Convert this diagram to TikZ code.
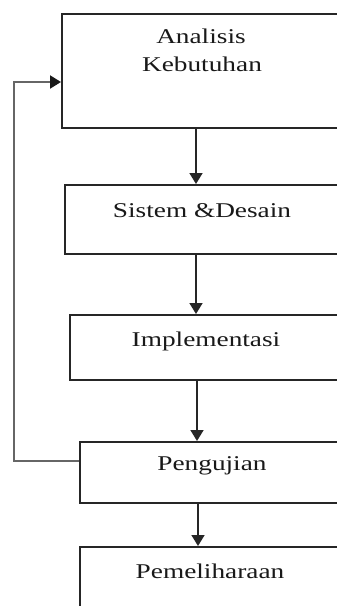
\documentclass[tikz,border=0pt]{standalone}
\usepackage{fontspec}
\setmainfont[FakeStretch=1.3]{Liberation Serif}
\usetikzlibrary{arrows.meta}
\begin{document}
\begin{tikzpicture}[x=1pt,y=-1pt,
  box/.style={draw=black!85,line width=1.6pt,rectangle,anchor=north west,minimum width=290pt,inner sep=0pt},
  lbl/.style={font=\fontsize{21}{28}\selectfont,anchor=base,text=black!90,inner sep=0pt},
  arr/.style={draw=black!85,line width=1.6pt,-{Triangle[length=11pt,width=13pt]}},
  fb/.style={draw=black!60,line width=2pt,-{Triangle[length=11pt,width=13pt,color=black!90]}}]
\useasboundingbox (0,0) rectangle (337,606);
\fill[white] (0,0) rectangle (337,606);
\clip (0,0) rectangle (337,606);
% boxes
\node[box,minimum height=114pt] (b1) at (61,13) {};
\node[box,minimum height=69pt] (b2) at (64,184) {};
\node[box,minimum height=65pt] (b3) at (69,314) {};
\node[box,minimum height=61pt] (b4) at (79,441) {};
\node[box,minimum height=90pt] (b5) at (79,546) {};
% labels
\node[lbl] (t1a) at (201,43) {Analisis};
\node[lbl] (t1b) at (202,71) {Kebutuhan};
\node[lbl] (t2) at (202,217) {Sistem \&Desain};
\node[lbl] (t3) at (206,346) {Implementasi};
\node[lbl] (t4) at (212,470) {Pengujian};
\node[lbl] (t5) at (210,578) {Pemeliharaan};
% arrows
\draw[arr] (b1.south -| 196,0) -- (b2.north -| 196,0);
\draw[arr] (b2.south -| 196,0) -- (b3.north -| 196,0);
\draw[arr] (b3.south -| 197,0) -- (b4.north -| 197,0);
\draw[arr] (b4.south -| 198,0) -- (b5.north -| 198,0);
% feedback
\coordinate (fbL) at (14,461);
\coordinate (fbT) at (14,82);
\draw[fb] (b4.west |- fbL) -- (fbL) -- (fbT) -- (b1.west |- fbT);
\end{tikzpicture}
\end{document}
